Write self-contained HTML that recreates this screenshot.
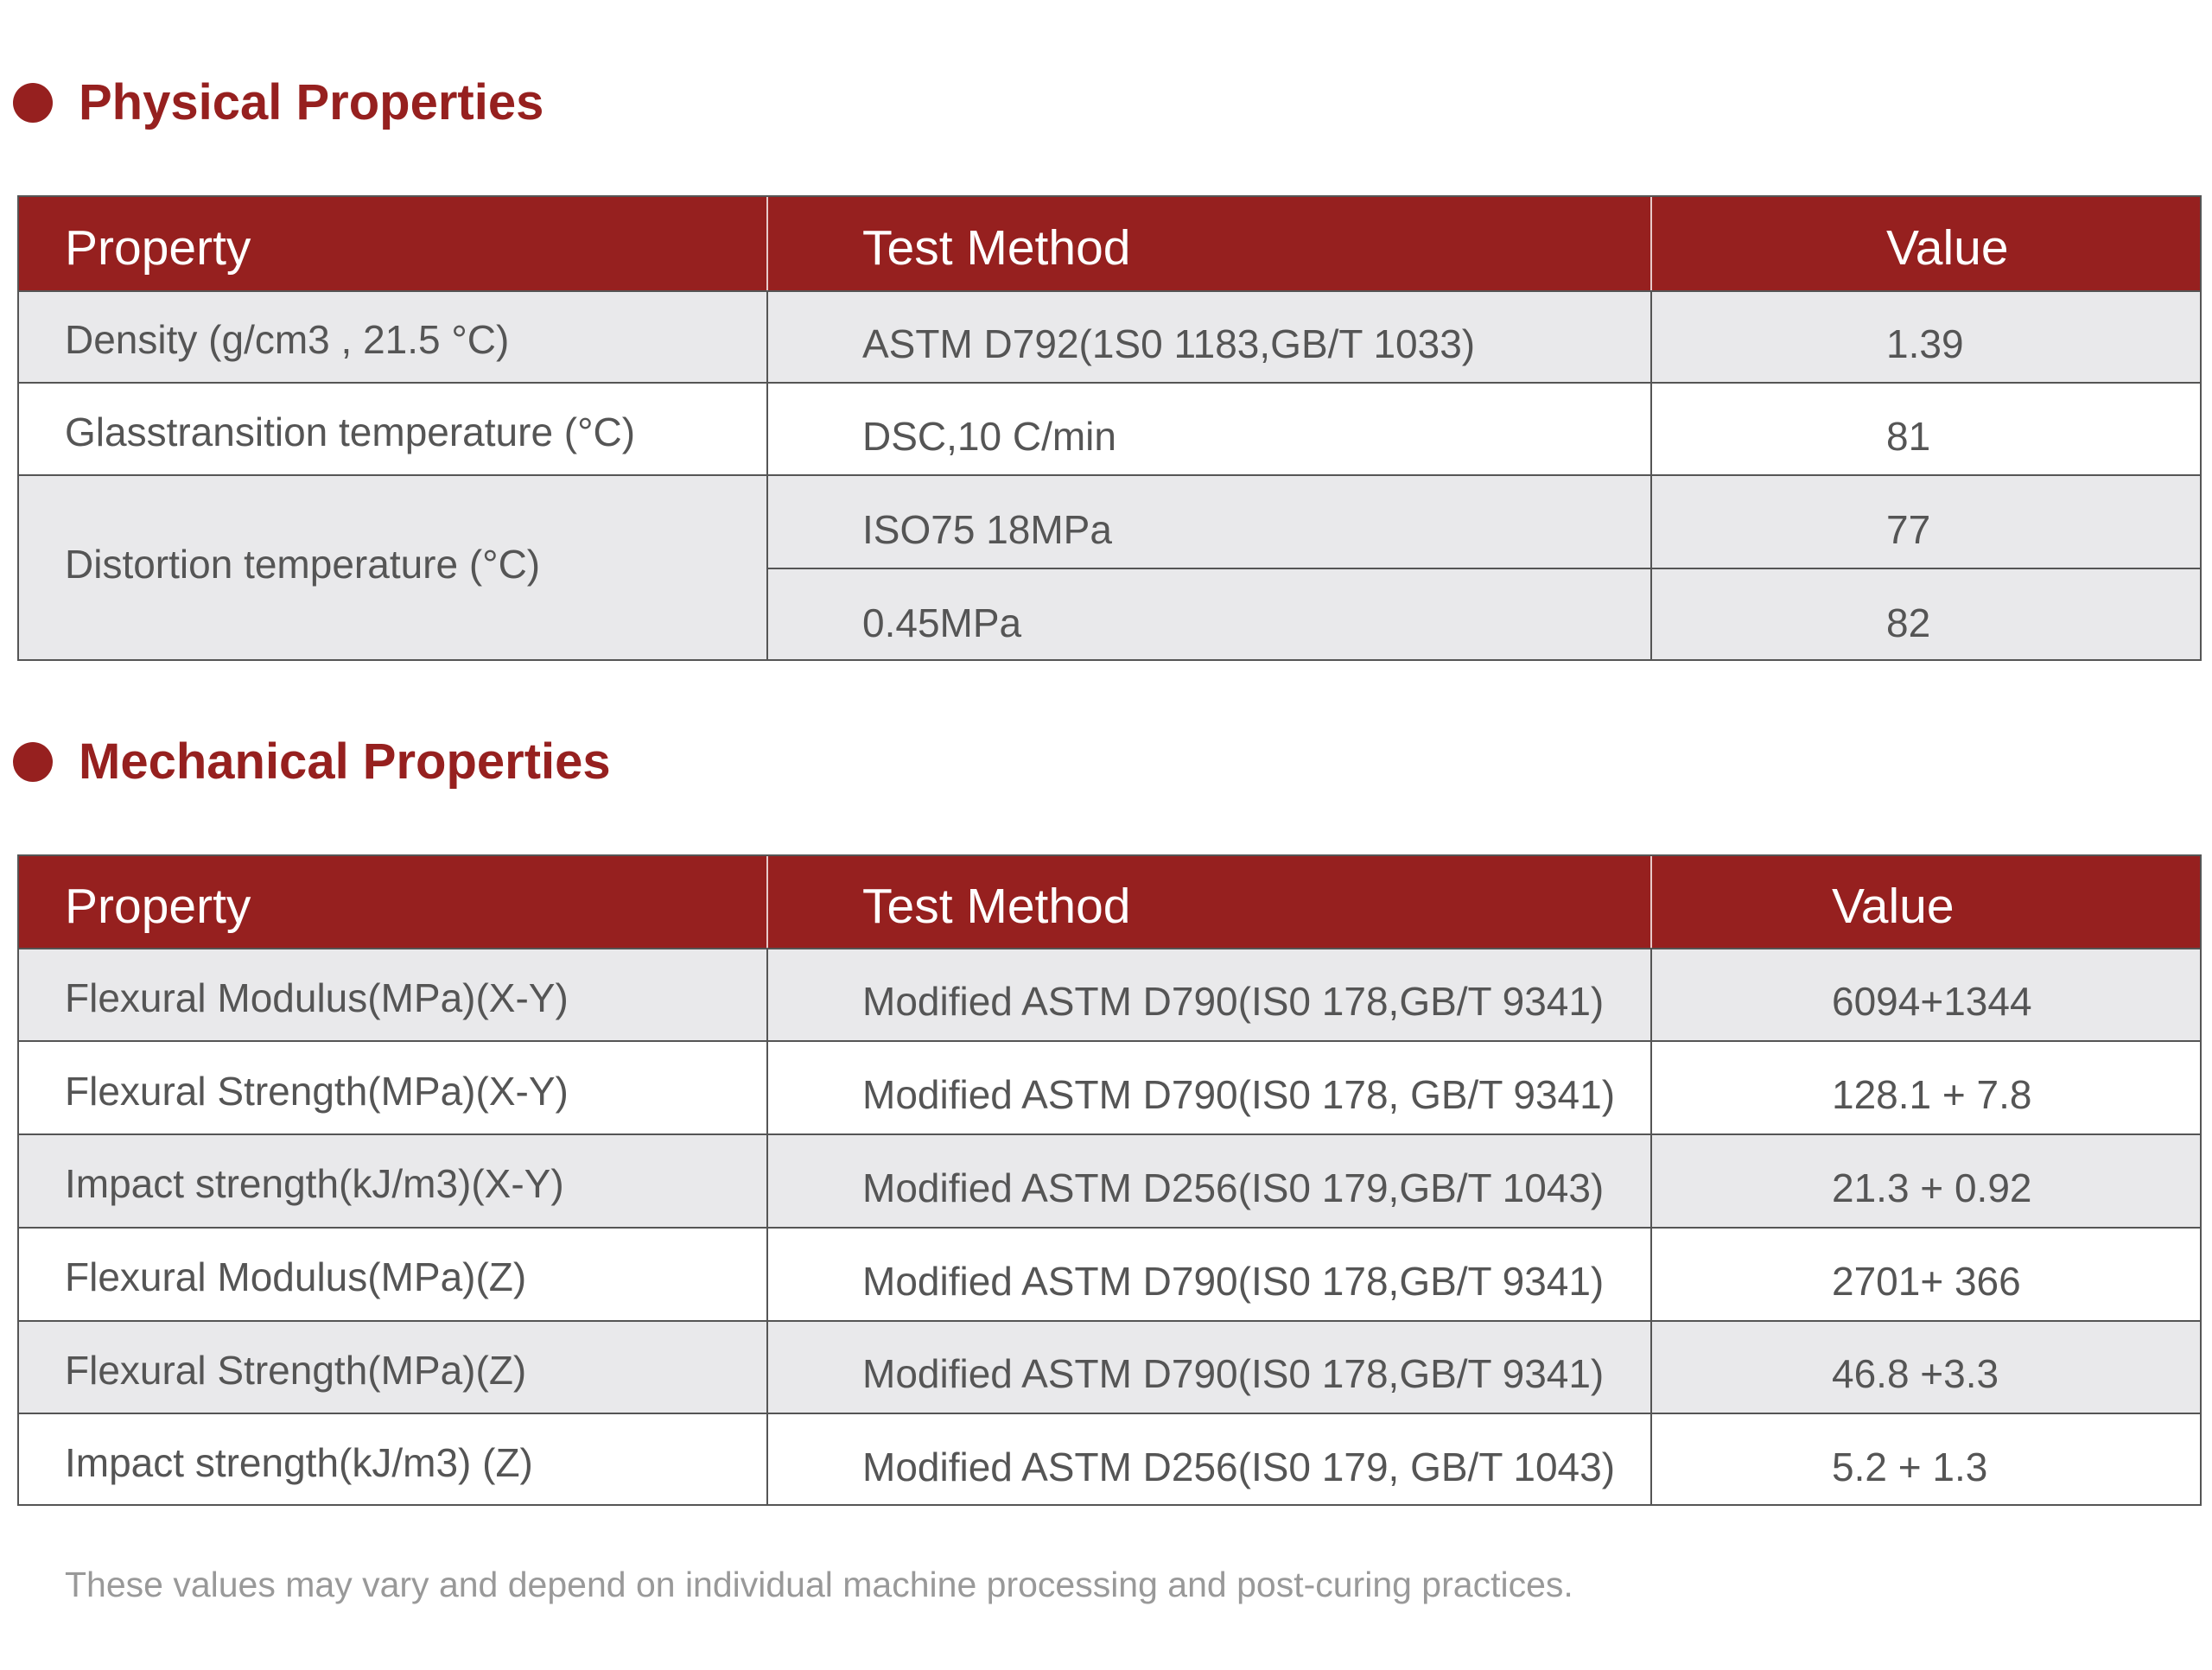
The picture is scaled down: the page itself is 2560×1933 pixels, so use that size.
<!DOCTYPE html>
<html><head><meta charset="utf-8"><style>
body{margin:0;width:2560px;height:1933px;background:#fff;position:relative;overflow:hidden;font-family:"Liberation Sans",sans-serif}
.dot{position:absolute;width:46px;height:46px;border-radius:50%;background:#96201f}
.ttl{position:absolute;color:#96201f;font-weight:bold;font-size:58px;line-height:1;white-space:nowrap}
.hd{position:absolute;background:#96201f}
.row{position:absolute;left:20px;width:2527px}
.g{background:#e9e9eb}
.hl{position:absolute;left:20px;width:2528px;height:2px;background:#555}
.vl{position:absolute;width:2px;background:#555}
.vw{position:absolute;width:2px;background:#e8c9c9}
.t{position:absolute;font-size:46px;color:#555;line-height:1;white-space:nowrap}
.h{position:absolute;font-size:57px;color:#fff;line-height:1;white-space:nowrap}
</style></head><body>
<div class="dot" style="left:15px;top:96px"></div>
<div class="ttl" style="left:91px;top:90px">Physical Properties</div>
<div class="hd" style="left:20px;top:227px;width:2527px;height:109px"></div>
<div class="row g" style="top:336px;height:107px"></div>
<div class="row g" style="top:550px;height:214px"></div>
<div class="hl" style="top:226px"></div>
<div class="hl" style="top:336px"></div>
<div class="hl" style="top:442px"></div>
<div class="hl" style="top:549px"></div>
<div class="hl" style="top:657px;left:887px;width:1661px"></div>
<div class="hl" style="top:763px"></div>
<div class="vl" style="left:20px;top:227px;height:538px"></div>
<div class="vl" style="left:2546px;top:227px;height:538px"></div>
<div class="vw" style="left:887px;top:228px;height:108px"></div>
<div class="vw" style="left:1910px;top:228px;height:108px"></div>
<div class="vl" style="left:887px;top:336px;height:428px"></div>
<div class="vl" style="left:1910px;top:336px;height:428px"></div>
<div class="h" style="left:75px;top:259px">Property</div>
<div class="h" style="left:998px;top:259px">Test Method</div>
<div class="h" style="left:2183px;top:259px">Value</div>
<div class="t" style="left:75px;top:370px">Density (g/cm3 , 21.5 °C)</div>
<div class="t" style="left:998px;top:375px">ASTM D792(1S0 1183,GB/T 1033)</div>
<div class="t" style="left:2183px;top:375px">1.39</div>
<div class="t" style="left:75px;top:477px">Glasstransition temperature (°C)</div>
<div class="t" style="left:998px;top:482px">DSC,10 C/min</div>
<div class="t" style="left:2183px;top:482px">81</div>
<div class="t" style="left:75px;top:630px">Distortion temperature (°C)</div>
<div class="t" style="left:998px;top:590px">ISO75 18MPa</div>
<div class="t" style="left:2183px;top:590px">77</div>
<div class="t" style="left:998px;top:698px">0.45MPa</div>
<div class="t" style="left:2183px;top:698px">82</div>

<div class="dot" style="left:15px;top:859px"></div>
<div class="ttl" style="left:91px;top:853px">Mechanical Properties</div>
<div class="hd" style="left:20px;top:990px;width:2527px;height:107px"></div>
<div class="row g" style="top:1097px;height:108px"></div>
<div class="row g" style="top:1313px;height:108px"></div>
<div class="row g" style="top:1529px;height:107px"></div>
<div class="hl" style="top:989px"></div>
<div class="hl" style="top:1097px"></div>
<div class="hl" style="top:1204px"></div>
<div class="hl" style="top:1312px"></div>
<div class="hl" style="top:1420px"></div>
<div class="hl" style="top:1528px"></div>
<div class="hl" style="top:1635px"></div>
<div class="hl" style="top:1741px"></div>
<div class="vl" style="left:20px;top:990px;height:753px"></div>
<div class="vl" style="left:2546px;top:990px;height:753px"></div>
<div class="vw" style="left:887px;top:991px;height:106px"></div>
<div class="vw" style="left:1910px;top:991px;height:106px"></div>
<div class="vl" style="left:887px;top:1097px;height:646px"></div>
<div class="vl" style="left:1910px;top:1097px;height:646px"></div>
<div class="h" style="left:75px;top:1021px">Property</div>
<div class="h" style="left:998px;top:1021px">Test Method</div>
<div class="h" style="left:2120px;top:1021px">Value</div>

<div class="t" style="left:75px;top:1132px">Flexural Modulus(MPa)(X-Y)</div>
<div class="t" style="left:998px;top:1136px">Modified ASTM D790(IS0 178,GB/T 9341)</div>
<div class="t" style="left:2120px;top:1136px">6094+1344</div>
<div class="t" style="left:75px;top:1240px">Flexural Strength(MPa)(X-Y)</div>
<div class="t" style="left:998px;top:1244px">Modified ASTM D790(IS0 178, GB/T 9341)</div>
<div class="t" style="left:2120px;top:1244px">128.1 + 7.8</div>
<div class="t" style="left:75px;top:1347px">Impact strength(kJ/m3)(X-Y)</div>
<div class="t" style="left:998px;top:1352px">Modified ASTM D256(IS0 179,GB/T 1043)</div>
<div class="t" style="left:2120px;top:1352px">21.3 + 0.92</div>
<div class="t" style="left:75px;top:1455px">Flexural Modulus(MPa)(Z)</div>
<div class="t" style="left:998px;top:1460px">Modified ASTM D790(IS0 178,GB/T 9341)</div>
<div class="t" style="left:2120px;top:1460px">2701+ 366</div>
<div class="t" style="left:75px;top:1563px">Flexural Strength(MPa)(Z)</div>
<div class="t" style="left:998px;top:1567px">Modified ASTM D790(IS0 178,GB/T 9341)</div>
<div class="t" style="left:2120px;top:1567px">46.8 +3.3</div>
<div class="t" style="left:75px;top:1670px">Impact strength(kJ/m3) (Z)</div>
<div class="t" style="left:998px;top:1675px">Modified ASTM D256(IS0 179, GB/T 1043)</div>
<div class="t" style="left:2120px;top:1675px">5.2 + 1.3</div>

<div class="t" style="left:75px;top:1814px;font-size:41px;color:#999">These values may vary and depend on individual machine processing and post-curing practices.</div>
</body></html>
